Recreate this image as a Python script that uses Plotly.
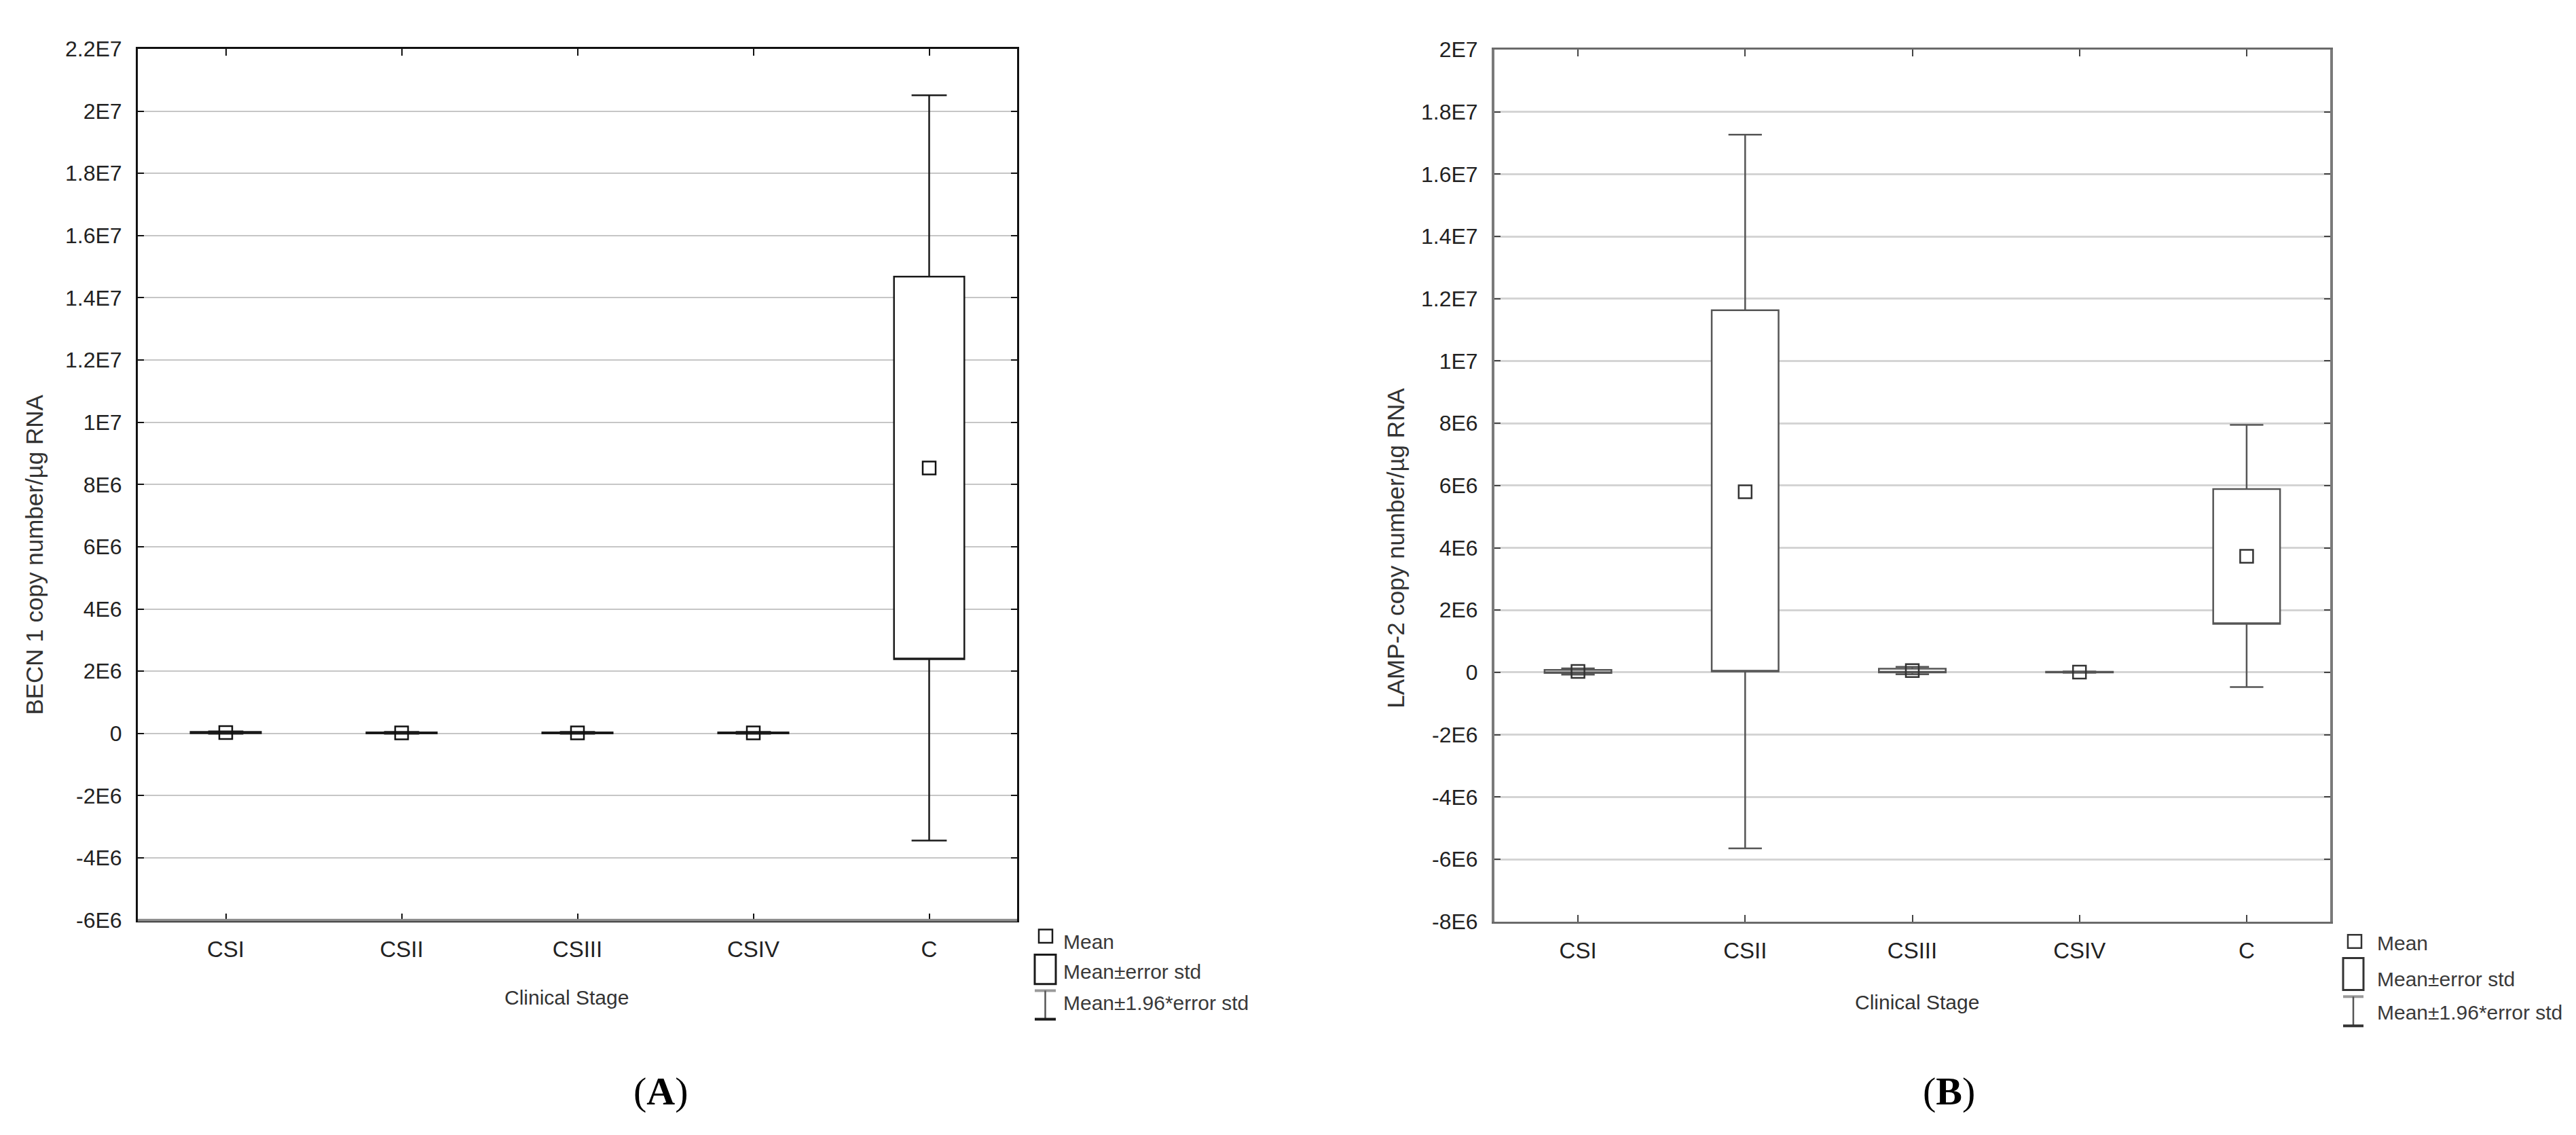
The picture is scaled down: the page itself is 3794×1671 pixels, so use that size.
import plotly.graph_objects as go

W, H = 3794, 1671

# ---------------- data ----------------
categories = ["CSI", "CSII", "CSIII", "CSIV", "C"]

# Panel A: BECN 1 copy number/µg RNA
A_mean = [0.03e6, 0.02e6, 0.02e6, 0.02e6, 8.53e6]
A_box_lo = [0.01e6, 0.005e6, 0.005e6, 0.005e6, 2.39e6]      # mean - error std
A_box_hi = [0.05e6, 0.035e6, 0.035e6, 0.035e6, 14.68e6]     # mean + error std
A_whisk_lo = [-0.01e6, -0.01e6, -0.01e6, -0.01e6, -3.44e6]  # mean - 1.96*error std
A_whisk_hi = [0.07e6, 0.05e6, 0.05e6, 0.05e6, 20.51e6]      # mean + 1.96*error std

# Panel B: LAMP-2 copy number/µg RNA
B_mean = [0.03e6, 5.80e6, 0.06e6, 0.01e6, 3.73e6]
B_box_lo = [-0.02e6, 0.03e6, 0.0, 0.0, 1.56e6]
B_box_hi = [0.08e6, 11.63e6, 0.12e6, 0.02e6, 5.89e6]
B_whisk_lo = [-0.07e6, -5.65e6, -0.06e6, -0.01e6, -0.47e6]
B_whisk_hi = [0.13e6, 17.27e6, 0.18e6, 0.03e6, 7.95e6]

A_tickvals = [2.2e7, 2.0e7, 1.8e7, 1.6e7, 1.4e7, 1.2e7, 1.0e7, 8e6, 6e6, 4e6, 2e6, 0, -2e6, -4e6, -6e6]
A_ticktext = ["2.2E7", "2E7", "1.8E7", "1.6E7", "1.4E7", "1.2E7", "1E7", "8E6", "6E6", "4E6", "2E6", "0", "-2E6", "-4E6", "-6E6"]
B_tickvals = [2.0e7, 1.8e7, 1.6e7, 1.4e7, 1.2e7, 1.0e7, 8e6, 6e6, 4e6, 2e6, 0, -2e6, -4e6, -6e6, -8e6]
B_ticktext = ["2E7", "1.8E7", "1.6E7", "1.4E7", "1.2E7", "1E7", "8E6", "6E6", "4E6", "2E6", "0", "-2E6", "-4E6", "-6E6", "-8E6"]

legend_labels = ["Mean", "Mean±error std", "Mean±1.96*error std"]

FONT = "Liberation Sans, Arial, sans-serif"
xpos = list(range(len(categories)))


def px(x):
    return x / W


def py(y):
    return 1 - y / H


fig = go.Figure()

# ---------------- panel A ----------------
fig.add_trace(go.Box(
    x=xpos, q1=A_box_lo, median=A_box_lo, q3=A_box_hi,
    lowerfence=A_whisk_lo, upperfence=A_whisk_hi,
    width=0.4, whiskerwidth=0.5, boxpoints=False,
    fillcolor="white", line=dict(color="#1a1a1a", width=2.5),
    xaxis="x", yaxis="y", showlegend=False, hoverinfo="skip"))
fig.add_trace(go.Scatter(
    x=xpos, y=A_mean, mode="markers",
    marker=dict(symbol="square-open", size=19, color="#111111", line=dict(width=2.5)),
    xaxis="x", yaxis="y", showlegend=False, hoverinfo="skip"))

# ---------------- panel B ----------------
fig.add_trace(go.Box(
    x=xpos, q1=B_box_lo, median=B_box_lo, q3=B_box_hi,
    lowerfence=B_whisk_lo, upperfence=B_whisk_hi,
    width=0.4, whiskerwidth=0.5, boxpoints=False,
    fillcolor="white", line=dict(color="#555555", width=2.5),
    xaxis="x2", yaxis="y2", showlegend=False, hoverinfo="skip"))
fig.add_trace(go.Scatter(
    x=xpos, y=B_mean, mode="markers",
    marker=dict(symbol="square-open", size=19, color="#333333", line=dict(width=2.5)),
    xaxis="x2", yaxis="y2", showlegend=False, hoverinfo="skip"))

common_x = dict(range=[-0.5, 4.5], tickmode="array", tickvals=xpos, ticktext=categories,
                ticks="inside", ticklen=10, tickwidth=2, showline=True, mirror="ticks",
                showgrid=False, zeroline=False, ticklabelstandoff=12,
                tickfont=dict(family=FONT, size=33, color="#222222"))
common_y = dict(tickmode="array", ticks="inside", ticklen=9, tickwidth=2, showline=True,
                mirror="ticks", zeroline=False, ticklabelstandoff=14,
                tickfont=dict(family=FONT, size=32, color="#222222"))

fig.update_layout(
    width=W, height=H, margin=dict(l=0, r=0, t=0, b=0),
    paper_bgcolor="white", plot_bgcolor="white", showlegend=False,
    xaxis=dict(domain=[px(195), px(1490)], anchor="y", linecolor="#111111", linewidth=3,
               tickcolor="#111111", **common_x),
    yaxis=dict(domain=[py(1358), py(47)], anchor="x", range=[-6e6, 2.2e7],
               tickvals=A_tickvals, ticktext=A_ticktext, linecolor="#111111", linewidth=3,
               tickcolor="#111111", gridcolor="#c6c6c6", gridwidth=2, **common_y),
    xaxis2=dict(domain=[px(2193), px(3424)], anchor="y2", linecolor="#6a6a6a", linewidth=3,
                tickcolor="#444444", **common_x),
    yaxis2=dict(domain=[py(1360), py(48)], anchor="x2", range=[-8e6, 2.0e7],
                tickvals=B_tickvals, ticktext=B_ticktext, linecolor="#7a7a7a", linewidth=4,
                tickcolor="#444444", gridcolor="#d4d4d4", gridwidth=3, **common_y),
)

shapes = []
# bottom axis of panel A is grey in the reference
shapes.append(dict(type="line", xref="x domain", yref="y domain", x0=0, x1=1, y0=0, y1=0,
                   line=dict(color="#8a8a8a", width=4), layer="above"))

annotations = []
# axis titles
annotations.append(dict(text="BECN 1 copy number/µg RNA", x=px(43), y=py(808), xref="paper", yref="paper",
                        textangle=-90, showarrow=False, xanchor="center", yanchor="middle",
                        font=dict(family=FONT, size=35, color="#333333")))
annotations.append(dict(text="Clinical Stage", x=px(826), y=py(1474), xref="paper", yref="paper",
                        showarrow=False, xanchor="center", yanchor="middle",
                        font=dict(family=FONT, size=30, color="#333333")))
annotations.append(dict(text="LAMP-2 copy number/µg RNA", x=px(2048), y=py(798), xref="paper", yref="paper",
                        textangle=-90, showarrow=False, xanchor="center", yanchor="middle",
                        font=dict(family=FONT, size=35, color="#333333")))
annotations.append(dict(text="Clinical Stage", x=px(2815), y=py(1481), xref="paper", yref="paper",
                        showarrow=False, xanchor="center", yanchor="middle",
                        font=dict(family=FONT, size=30, color="#333333")))
# panel labels
annotations.append(dict(text="(<b>A</b>)", x=px(965), y=py(1615), xref="paper", yref="paper",
                        showarrow=False, xanchor="center", yanchor="middle",
                        font=dict(family="Liberation Serif, Times New Roman, serif", size=58, color="#000000")))
annotations.append(dict(text="(<b>B</b>)", x=px(2862), y=py(1615), xref="paper", yref="paper",
                        showarrow=False, xanchor="center", yanchor="middle",
                        font=dict(family="Liberation Serif, Times New Roman, serif", size=58, color="#000000")))


def add_legend(mx, my, bx0, bx1, by0, by1, iy0, iy1, tx, ty, col):
    # mean marker icon
    shapes.append(dict(type="rect", xref="paper", yref="paper",
                       x0=px(mx - 10), x1=px(mx + 10), y0=py(my + 10), y1=py(my - 10),
                       line=dict(color=col, width=2.5), fillcolor="rgba(0,0,0,0)"))
    # box icon
    shapes.append(dict(type="rect", xref="paper", yref="paper",
                       x0=px(bx0), x1=px(bx1), y0=py(by1), y1=py(by0),
                       line=dict(color=col, width=3), fillcolor="rgba(0,0,0,0)"))
    # I-beam icon
    xc = (bx0 + bx1) / 2
    shapes.append(dict(type="line", xref="paper", yref="paper", x0=px(bx0), x1=px(bx1),
                       y0=py(iy0), y1=py(iy0), line=dict(color="#9a9a9a", width=4)))
    shapes.append(dict(type="line", xref="paper", yref="paper", x0=px(xc), x1=px(xc),
                       y0=py(iy0), y1=py(iy1), line=dict(color="#555555", width=2.5)))
    shapes.append(dict(type="line", xref="paper", yref="paper", x0=px(bx0), x1=px(bx1),
                       y0=py(iy1), y1=py(iy1), line=dict(color=col, width=4)))
    for lab, yy in zip(legend_labels, ty):
        annotations.append(dict(text=lab, x=px(tx), y=py(yy), xref="paper", yref="paper",
                                showarrow=False, xanchor="left", yanchor="middle",
                                font=dict(family=FONT, size=30, color="#3a3a3a")))


add_legend(1532, 1382, 1516, 1547, 1410, 1454, 1464, 1507, 1556, [1390, 1435, 1482], "#1a1a1a")
add_legend(3460, 1390, 3443, 3473, 1415, 1463, 1473, 1517, 3491, [1393, 1447, 1497], "#333333")

fig.update_layout(shapes=shapes, annotations=annotations)

fig.write_html("out.html")
